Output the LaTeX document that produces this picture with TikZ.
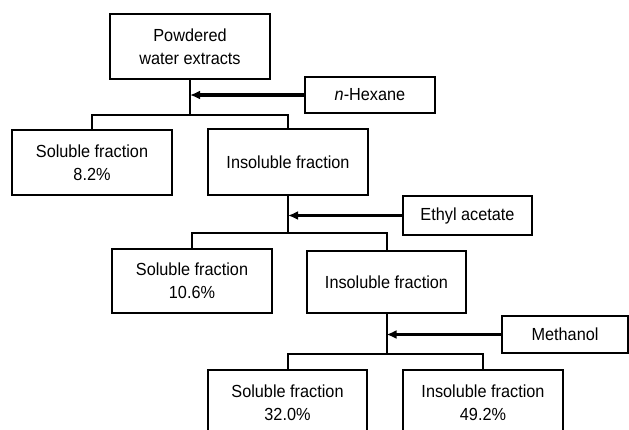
\documentclass[tikz,border=0pt]{standalone}
\usepackage{fontspec}
\setmainfont{Liberation Sans}[FakeStretch=0.93]
\usetikzlibrary{arrows.meta}
\begin{document}
\begin{tikzpicture}[x=1pt,y=-1pt,
  box/.style={draw, line width=2pt, inner sep=0pt, align=center,
    font=\fontsize{17.5}{23}\selectfont},
  link/.style={line width=2pt},
  feed/.style={line width=3.4pt, -{Latex[length=10pt,width=9pt]}}]
\fill[white] (0,0) rectangle (629,429);
\useasboundingbox (0,0) rectangle (629,429);
% nodes
\node[box, minimum width=160pt, minimum height=65pt] (top) at (190,46.5) {Powdered\\water extracts};
\node[box, minimum width=130pt, minimum height=36pt] (hex) at (370,95) {\textit{n}-Hexane};
\node[box, minimum width=160pt, minimum height=65pt] (s1) at (92,162.5) {Soluble fraction\\8.2\%};
\node[box, minimum width=160pt, minimum height=66pt] (i1) at (288,162) {Insoluble fraction};
\node[box, minimum width=129pt, minimum height=39pt] (eth) at (467.5,215.5) {Ethyl acetate};
\node[box, minimum width=160pt, minimum height=64pt] (s2) at (192,281) {Soluble fraction\\10.6\%};
\node[box, minimum width=159pt, minimum height=62pt] (i2) at (386.5,282) {Insoluble fraction};
\node[box, minimum width=126pt, minimum height=37pt] (meth) at (565,334.5) {Methanol};
\node[box, minimum width=159pt, minimum height=66pt] (s3) at (287.5,403) {Soluble fraction\\32.0\%};
\node[box, minimum width=160pt, minimum height=66pt] (i3) at (483,403) {Insoluble fraction\\49.2\%};
% bar coordinates
\coordinate (b1) at (190,115);
\coordinate (b2) at (288,233);
\coordinate (b3) at (386.5,354);
% tree connectors
\draw[link] (top.south) -- (b1);
\draw[link] (s1.north) |- (b1) -| (i1.north);
\draw[link] (i1.south) -- (b2);
\draw[link] (s2.north) |- (b2) -| (i2.north);
\draw[link] (i2.south) -- (b3);
\draw[link] (s3.north) |- (b3) -| (i3.north);
% solvent arrows
\draw[feed] (hex.west) -- (hex.west -| top.south);
\draw[feed] (eth.west) -- (eth.west -| i1.south);
\draw[feed] (meth.west) -- (meth.west -| i2.south);
\end{tikzpicture}
\end{document}
